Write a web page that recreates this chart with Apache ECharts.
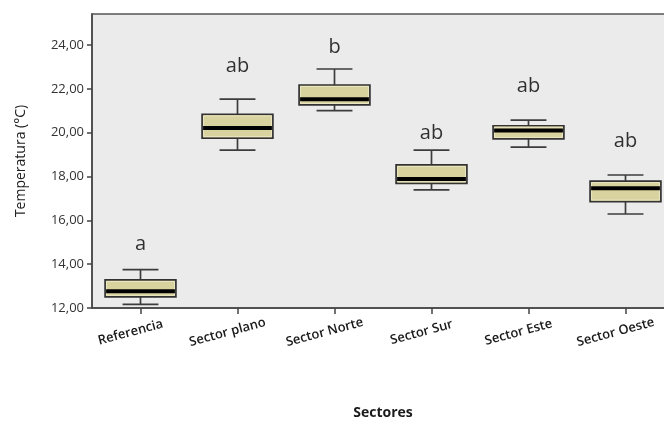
<!DOCTYPE html>
<html>
<head>
<meta charset="utf-8">
<script src="https://cdn.jsdelivr.net/npm/echarts@6/dist/echarts.min.js"></script>
<style>
  html, body { margin: 0; padding: 0; background: #ffffff; }
  #chart { width: 664px; height: 424px; }
</style>
</head>
<body>
<div id="chart"></div>
<script>
// Temperature per sector: five-number summaries (°C)
const categories = ['Referencia', 'Sector plano', 'Sector Norte', 'Sector Sur', 'Sector Este', 'Sector Oeste'];
const whiskerLow  = [12.17, 19.21, 21.01, 17.39, 19.34, 16.29];
const quartile1   = [12.51, 19.75, 21.27, 17.69, 19.72, 16.86];
const medians     = [12.76, 20.22, 21.53, 17.89, 20.10, 17.47];
const quartile3   = [13.28, 20.84, 22.18, 18.53, 20.32, 17.79];
const whiskerHigh = [13.75, 21.53, 22.91, 19.21, 20.58, 18.07];

// Significance group letters and the temperature level they sit at
const groupLetters = ['a', 'ab', 'b', 'ab', 'ab', 'ab'];
const letterLevel  = [14.92, 23.02, 23.92, 19.99, 22.14, 19.62];

const yTicks = [12, 14, 16, 18, 20, 22, 24];

const boxData = categories.map((c, i) => [i, whiskerLow[i], quartile1[i], medians[i], quartile3[i], whiskerHigh[i]]);
const letterData = categories.map((c, i) => [i, letterLevel[i], groupLetters[i]]);

function renderBox(params, api) {
  const idx = api.value(0);
  const band = api.size([1, 0])[0];
  const half = band * 0.365;
  const capHalf = band * 0.185;
  const x = api.coord([idx, 0])[0];
  const yLow = api.coord([idx, api.value(1)])[1];
  const yQ1 = api.coord([idx, api.value(2)])[1];
  const yMed = api.coord([idx, api.value(3)])[1];
  const yQ3 = api.coord([idx, api.value(4)])[1];
  const yHigh = api.coord([idx, api.value(5)])[1];
  const lineStyle = { stroke: '#3c3c3c', lineWidth: 1.7 };
  return {
    type: 'group',
    children: [
      { type: 'line', shape: { x1: x, y1: yHigh, x2: x, y2: yQ3 }, style: lineStyle },
      { type: 'line', shape: { x1: x, y1: yQ1, x2: x, y2: yLow }, style: lineStyle },
      { type: 'line', shape: { x1: x - capHalf, y1: yHigh, x2: x + capHalf, y2: yHigh }, style: lineStyle },
      { type: 'line', shape: { x1: x - capHalf, y1: yLow, x2: x + capHalf, y2: yLow }, style: lineStyle },
      { type: 'rect', shape: { x: x - half, y: yQ3, width: half * 2, height: yQ1 - yQ3 },
        style: { fill: '#d8d29e', stroke: '#333333', lineWidth: 1.7 } },
      { type: 'rect', shape: { x: x - half + 1.5, y: yQ3 + 1.5, width: half * 2 - 3, height: Math.max(0, yQ1 - yQ3 - 3) },
        style: { fill: 'none', stroke: '#ebe7c4', lineWidth: 1 } },
      { type: 'line', shape: { x1: x - half + 1, y1: yMed, x2: x + half - 1, y2: yMed },
        style: { stroke: '#000000', lineWidth: 4 } }
    ]
  };
}

const chart = echarts.init(document.getElementById('chart'), null, { renderer: 'canvas' });
chart.setOption({
  animation: false,
  backgroundColor: '#ffffff',
  textStyle: { fontFamily: 'Open Sans' },
  grid: {
    left: 92, top: 14, right: -10, bottom: 116,
    outerBoundsMode: 'none', containLabel: false,
    show: true, backgroundColor: '#ebebeb', borderColor: '#555555', borderWidth: 1.5
  },
  xAxis: {
    type: 'category',
    data: categories,
    name: 'Sectores',
    nameLocation: 'middle',
    nameGap: 98,
    nameTextStyle: { fontSize: 14, fontWeight: 'bold', color: '#1a1a1a' },
    axisLine: { show: true, lineStyle: { color: '#444444', width: 1.5 } },
    axisTick: { show: true, alignWithLabel: true, length: 6, lineStyle: { color: '#444444', width: 1.5 } },
    axisLabel: {
      rotate: 15, margin: 15, align: 'center', verticalAlign: 'top',
      fontSize: 13, fontWeight: 600, color: '#1a1a1a', interval: 0,
      padding: [0, 24, 0, 0]
    },
    splitLine: { show: false }
  },
  yAxis: {
    type: 'value',
    min: 12, max: 25.42,
    name: 'Temperatura (°C)',
    nameLocation: 'middle',
    nameGap: 64,
    nameRotate: 90,
    nameTextStyle: { fontSize: 14, color: '#222222' },
    axisLine: { show: true, lineStyle: { color: '#444444', width: 1.5 } },
    axisTick: { show: true, length: 5, customValues: yTicks, lineStyle: { color: '#444444', width: 1.5 } },
    axisLabel: {
      customValues: yTicks, margin: 8, fontSize: 13, color: '#333333',
      formatter: v => v.toFixed(2).replace('.', ',')
    },
    splitLine: { show: false }
  },
  series: [
    {
      type: 'custom',
      renderItem: renderBox,
      data: boxData,
      encode: { x: 0, y: [1, 2, 3, 4, 5] },
      z: 3
    },
    {
      type: 'scatter',
      data: letterData,
      symbolSize: 0,
      label: {
        show: true, position: 'inside',
        formatter: p => p.data[2],
        fontSize: 20, color: '#000000', fontFamily: 'Open Sans'
      },
      z: 4
    }
  ]
});
</script>
</body>
</html>
